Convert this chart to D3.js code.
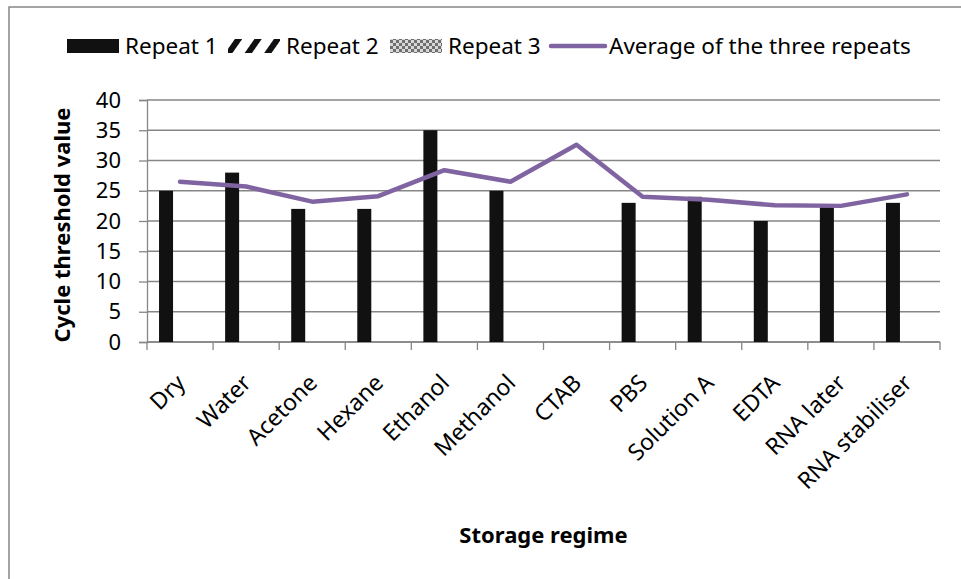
<!DOCTYPE html>
<html>
<head>
<meta charset="utf-8">
<script src="https://cdn.jsdelivr.net/npm/d3@7"></script>
<style>
  body { margin: 0; background: #fff; }
  svg { display: block; font-family: "Noto Sans", sans-serif; }
</style>
</head>
<body>
<div id="chart"></div>
<script>
  // values
  const categories = ["Dry", "Water", "Acetone", "Hexane", "Ethanol", "Methanol", "CTAB", "PBS", "Solution A", "EDTA", "RNA later", "RNA stabiliser"];
  const seriesNames = ["Repeat 1", "Repeat 2", "Repeat 3"];
  const repeat1 = [25, 28, 22, 22, 35, 25, null, 23, 24, 20, 22.3, 23];
  const repeat2 = [null, null, null, null, null, null, null, null, null, null, null, null];
  const repeat3 = [null, null, null, null, null, null, null, null, null, null, null, null];
  const average = [26.5, 25.7, 23.2, 24.1, 28.4, 26.5, 32.6, 24.0, 23.5, 22.6, 22.5, 24.4];
  const yTicks = [0, 5, 10, 15, 20, 25, 30, 35, 40];

  const W = 961, H = 579;
  const plot = { left: 147, right: 940, top: 100, bottom: 342 };
  const purple = "#8064a2";
  const grey = "#868686";

  const svg = d3.select("#chart").append("svg")
    .attr("width", W)
    .attr("height", H);

  // fills for the three repeats
  const defs = svg.append("defs");
  const hatch = defs.append("pattern")
    .attr("id", "hatch")
    .attr("patternUnits", "userSpaceOnUse")
    .attr("width", 16).attr("height", 16)
    .attr("patternTransform", "translate(2,0) rotate(35)");
  hatch.append("rect").attr("width", 16).attr("height", 16).attr("fill", "#fff");
  hatch.append("rect").attr("width", 6).attr("height", 16).attr("fill", "#111");

  const cross = defs.append("pattern")
    .attr("id", "cross")
    .attr("patternUnits", "userSpaceOnUse")
    .attr("width", 6).attr("height", 6);
  cross.append("rect").attr("width", 6).attr("height", 6).attr("fill", "#d8d8d8");
  cross.append("rect").attr("width", 3).attr("height", 3).attr("fill", "#6f6f6f");
  cross.append("rect").attr("x", 3).attr("y", 3).attr("width", 3).attr("height", 3).attr("fill", "#6f6f6f");

  const fills = { "Repeat 1": "#111", "Repeat 2": "url(#hatch)", "Repeat 3": "url(#cross)" };
  const seriesData = { "Repeat 1": repeat1, "Repeat 2": repeat2, "Repeat 3": repeat3 };

  // outer chart border
  svg.append("rect")
    .attr("x", 9).attr("y", 7)
    .attr("width", W).attr("height", H)
    .attr("fill", "none")
    .attr("stroke", grey)
    .attr("stroke-width", 1.5);

  // scales
  const x = d3.scaleBand()
    .domain(categories)
    .range([plot.left, plot.right]);

  const xSub = d3.scaleBand()
    .domain(seriesNames)
    .range([0, x.bandwidth()])
    .paddingOuter(0.86);

  const y = d3.scaleLinear()
    .domain([0, 40])
    .range([plot.bottom, plot.top]);

  // gridlines
  svg.append("g")
    .selectAll("line")
    .data(yTicks)
    .join("line")
      .attr("x1", plot.left).attr("x2", plot.right)
      .attr("y1", d => y(d)).attr("y2", d => y(d))
      .attr("stroke", grey)
      .attr("stroke-width", 1.3);

  // y axis
  const yAxis = svg.append("g")
    .attr("transform", `translate(${plot.left},0)`)
    .call(d3.axisLeft(y).tickValues(yTicks).tickSize(8).tickPadding(18));
  yAxis.select(".domain").attr("stroke", grey).attr("stroke-width", 1.3);
  yAxis.selectAll(".tick line").attr("stroke", grey).attr("stroke-width", 1.3);
  yAxis.selectAll(".tick text")
    .attr("fill", "#000")
    .style("font-size", "22px")
    .style("font-family", "Noto Sans, sans-serif");

  // x axis
  const xAxis = svg.append("g")
    .attr("transform", `translate(0,${plot.bottom})`)
    .call(d3.axisBottom(x).tickSize(0).tickFormat(""));
  xAxis.select(".domain").remove();
  xAxis.append("line")
    .attr("x1", plot.left).attr("x2", plot.right)
    .attr("stroke", grey).attr("stroke-width", 1.3);
  xAxis.selectAll(".edge")
    .data(categories.concat(["__end"]))
    .join("line")
      .attr("class", "edge")
      .attr("x1", (d, i) => i < categories.length ? x(d) : plot.right)
      .attr("x2", (d, i) => i < categories.length ? x(d) : plot.right)
      .attr("y1", 0).attr("y2", 8)
      .attr("stroke", grey).attr("stroke-width", 1.3);

  svg.append("g")
    .selectAll("text")
    .data(categories)
    .join("text")
      .attr("transform", d => `translate(${x(d) + x.bandwidth() / 2 - 5},${plot.bottom + 31}) rotate(-45)`)
      .attr("text-anchor", "end")
      .attr("dy", "0.7em")
      .style("font-size", "23px")
      .text(d => d);

  // bars
  svg.append("g")
    .selectAll("g")
    .data(seriesNames)
    .join("g")
      .attr("fill", d => fills[d])
    .selectAll("rect")
    .data(s => seriesData[s].map((v, i) => ({ s, cat: categories[i], v })).filter(d => d.v != null))
    .join("rect")
      .attr("x", d => x(d.cat) + xSub(d.s))
      .attr("y", d => y(d.v))
      .attr("width", xSub.bandwidth())
      .attr("height", d => y(0) - y(d.v));

  // average line
  const line = d3.line()
    .x((d, i) => x(categories[i]) + x.bandwidth() / 2)
    .y(d => y(d));
  svg.append("path")
    .datum(average)
    .attr("d", line)
    .attr("fill", "none")
    .attr("stroke", purple)
    .attr("stroke-width", 4.5)
    .attr("stroke-linejoin", "round")
    .attr("stroke-linecap", "round");

  // axis titles
  svg.append("text")
    .attr("transform", `translate(70,${(plot.top + plot.bottom) / 2 + 4}) rotate(-90)`)
    .attr("text-anchor", "middle")
    .style("font-size", "22px")
    .style("font-weight", "bold")
    .text("Cycle threshold value");

  svg.append("text")
    .attr("x", (plot.left + plot.right) / 2)
    .attr("y", 543)
    .attr("text-anchor", "middle")
    .style("font-size", "22px")
    .style("font-weight", "bold")
    .text("Storage regime");

  // legend
  const legendItems = [
    { name: "Repeat 1", type: "bar", fill: fills["Repeat 1"], x: 67 },
    { name: "Repeat 2", type: "bar", fill: fills["Repeat 2"], x: 228 },
    { name: "Repeat 3", type: "bar", fill: fills["Repeat 3"], x: 390 },
    { name: "Average of the three repeats", type: "line", fill: purple, x: 551 }
  ];
  const legend = svg.append("g");
  const item = legend.selectAll("g")
    .data(legendItems)
    .join("g")
      .attr("transform", d => `translate(${d.x},46)`);
  item.filter(d => d.type === "bar").append("rect")
    .attr("y", -7).attr("width", 52).attr("height", 14)
    .attr("fill", d => d.fill);
  item.filter(d => d.type === "line").append("line")
    .attr("x1", 0).attr("x2", 54)
    .attr("stroke", purple).attr("stroke-width", 4.5)
    .attr("stroke-linecap", "round");
  item.append("text")
    .attr("x", 58)
    .attr("dy", "0.35em")
    .style("font-size", "22.5px")
    .text(d => d.name);
</script>
</body>
</html>
